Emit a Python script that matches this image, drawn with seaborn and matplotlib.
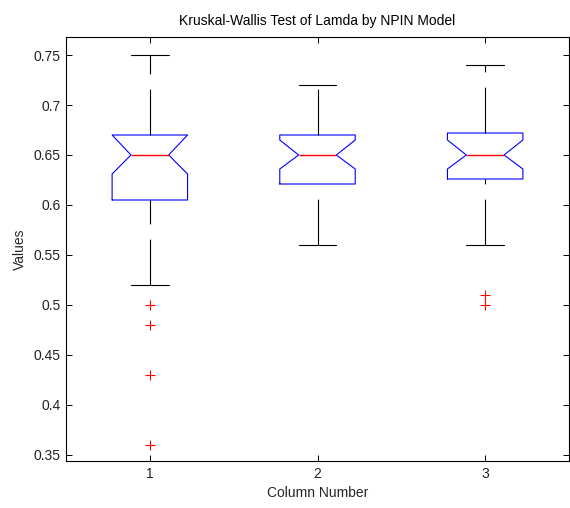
import matplotlib
matplotlib.use("Agg")
import matplotlib.pyplot as plt
import seaborn as sns
import pandas as pd

# ---- data ----
columns = [1, 2, 3]
q1 = [0.605, 0.621, 0.626]
medians = [0.650, 0.650, 0.650]
q3 = [0.670, 0.670, 0.672]
whisker_low = [0.520, 0.560, 0.560]
whisker_high = [0.750, 0.720, 0.740]
notch_low = [0.631, 0.636, 0.636]
notch_high = [0.670, 0.665, 0.665]
outliers = [[0.50, 0.48, 0.43, 0.36], [], [0.51, 0.50]]
y_ticks = [0.35, 0.40, 0.45, 0.50, 0.55, 0.60, 0.65, 0.70, 0.75]

sns.set_style("white")
plt.rcParams["font.family"] = ["Liberation Sans", "DejaVu Sans"]
plt.rcParams["lines.scale_dashes"] = False

fig = plt.figure(figsize=(5.70, 5.08), dpi=100)
ax = fig.add_axes([66 / 570, 47 / 508, (569 - 66) / 570, (461 - 37) / 508])

stats = []
for i in range(len(columns)):
    stats.append(dict(med=medians[i], q1=q1[i], q3=q3[i],
                      whislo=whisker_low[i], whishi=whisker_high[i],
                      cilo=notch_low[i], cihi=notch_high[i], fliers=[]))

lw = 0.8
res = ax.bxp(stats, positions=columns, widths=0.45, shownotches=True,
             showfliers=False, patch_artist=False,
             boxprops=dict(color=(0, 0, 1), linewidth=lw),
             medianprops=dict(color=(1, 0, 0), linewidth=1.0),
             whiskerprops=dict(color="black", linewidth=lw,
                               linestyle=(0, (33, 11))),
             capprops=dict(color="black", linewidth=lw))

# MATLAB draws each whisker from its lower end, so reverse the lower ones
for k, line in enumerate(res["whiskers"]):
    if k % 2 == 0:
        xd, yd = line.get_data()
        line.set_data(list(xd)[::-1], list(yd)[::-1])
for m in res["medians"]:
    m.set_zorder(3)

flier_df = pd.DataFrame(
    [(columns[i], v) for i in range(len(columns)) for v in outliers[i]],
    columns=["Column", "Value"])
sns.scatterplot(data=flier_df, x="Column", y="Value", marker="+",
                color=(1, 0, 0), s=60, linewidth=0.8, ax=ax, legend=False,
                zorder=3)

ax.set_xlim(0.5, 3.5)
ax.set_ylim(0.344, 0.768)
ax.set_xticks(columns)
ax.set_xticklabels([str(c) for c in columns])
ax.set_yticks(y_ticks)
ax.set_yticklabels([f"{t:g}" for t in y_ticks])

for s in ax.spines.values():
    s.set_visible(True)
    s.set_color("black")
    s.set_linewidth(0.8)

ax.tick_params(axis="both", which="major", direction="in", length=4.5,
               width=0.7, labelsize=10, colors="black",
               top=True, right=True, bottom=True, left=True,
               labeltop=False, labelright=False, pad=4)
for lab in ax.get_xticklabels() + ax.get_yticklabels():
    lab.set_color("#222222")

ax.set_title("Kruskal-Wallis Test of Lamda by NPIN Model", fontsize=10,
             pad=9, color="black")
ax.set_xlabel("Column Number", fontsize=10, labelpad=4)
ax.set_ylabel("Values", fontsize=10, labelpad=5)

fig.savefig("out.png", dpi=100)
